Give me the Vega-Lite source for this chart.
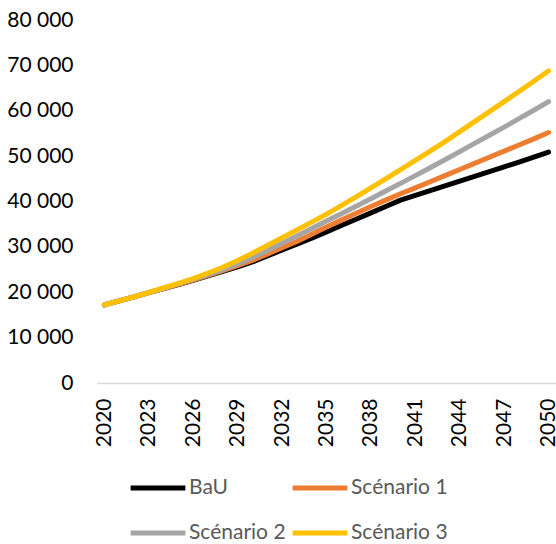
{
  "$schema": "https://vega.github.io/schema/vega-lite/v6.json",
  "width": 459,
  "height": 363,
  "autosize": {"type": "none"},
  "padding": {"left": 97, "top": 20, "right": 0, "bottom": 161},
  "background": "white",
  "config": {
    "view": {"stroke": null},
    "font": "Lato"
  },
  "data": {
    "values": [
      {"year": 2020, "series": "BaU", "value": 17200},
      {"year": 2021, "series": "BaU", "value": 18100},
      {"year": 2022, "series": "BaU", "value": 19000},
      {"year": 2023, "series": "BaU", "value": 19900},
      {"year": 2024, "series": "BaU", "value": 20800},
      {"year": 2025, "series": "BaU", "value": 21700},
      {"year": 2026, "series": "BaU", "value": 22650},
      {"year": 2027, "series": "BaU", "value": 23600},
      {"year": 2028, "series": "BaU", "value": 24600},
      {"year": 2029, "series": "BaU", "value": 25600},
      {"year": 2030, "series": "BaU", "value": 26700},
      {"year": 2031, "series": "BaU", "value": 28000},
      {"year": 2032, "series": "BaU", "value": 29300},
      {"year": 2033, "series": "BaU", "value": 30600},
      {"year": 2034, "series": "BaU", "value": 31900},
      {"year": 2035, "series": "BaU", "value": 33300},
      {"year": 2036, "series": "BaU", "value": 34700},
      {"year": 2037, "series": "BaU", "value": 36100},
      {"year": 2038, "series": "BaU", "value": 37500},
      {"year": 2039, "series": "BaU", "value": 38900},
      {"year": 2040, "series": "BaU", "value": 40300},
      {"year": 2041, "series": "BaU", "value": 41350},
      {"year": 2042, "series": "BaU", "value": 42400},
      {"year": 2043, "series": "BaU", "value": 43450},
      {"year": 2044, "series": "BaU", "value": 44500},
      {"year": 2045, "series": "BaU", "value": 45550},
      {"year": 2046, "series": "BaU", "value": 46600},
      {"year": 2047, "series": "BaU", "value": 47650},
      {"year": 2048, "series": "BaU", "value": 48700},
      {"year": 2049, "series": "BaU", "value": 49800},
      {"year": 2050, "series": "BaU", "value": 50900},
      {"year": 2020, "series": "Scénario 1", "value": 17200},
      {"year": 2021, "series": "Scénario 1", "value": 18100},
      {"year": 2022, "series": "Scénario 1", "value": 19000},
      {"year": 2023, "series": "Scénario 1", "value": 19900},
      {"year": 2024, "series": "Scénario 1", "value": 20800},
      {"year": 2025, "series": "Scénario 1", "value": 21750},
      {"year": 2026, "series": "Scénario 1", "value": 22700},
      {"year": 2027, "series": "Scénario 1", "value": 23700},
      {"year": 2028, "series": "Scénario 1", "value": 24750},
      {"year": 2029, "series": "Scénario 1", "value": 25850},
      {"year": 2030, "series": "Scénario 1", "value": 27000},
      {"year": 2031, "series": "Scénario 1", "value": 28400},
      {"year": 2032, "series": "Scénario 1", "value": 29800},
      {"year": 2033, "series": "Scénario 1", "value": 31200},
      {"year": 2034, "series": "Scénario 1", "value": 32800},
      {"year": 2035, "series": "Scénario 1", "value": 34400},
      {"year": 2036, "series": "Scénario 1", "value": 35900},
      {"year": 2037, "series": "Scénario 1", "value": 37400},
      {"year": 2038, "series": "Scénario 1", "value": 38900},
      {"year": 2039, "series": "Scénario 1", "value": 40300},
      {"year": 2040, "series": "Scénario 1", "value": 41700},
      {"year": 2041, "series": "Scénario 1", "value": 43000},
      {"year": 2042, "series": "Scénario 1", "value": 44350},
      {"year": 2043, "series": "Scénario 1", "value": 45700},
      {"year": 2044, "series": "Scénario 1", "value": 47050},
      {"year": 2045, "series": "Scénario 1", "value": 48400},
      {"year": 2046, "series": "Scénario 1", "value": 49750},
      {"year": 2047, "series": "Scénario 1", "value": 51100},
      {"year": 2048, "series": "Scénario 1", "value": 52450},
      {"year": 2049, "series": "Scénario 1", "value": 53800},
      {"year": 2050, "series": "Scénario 1", "value": 55200},
      {"year": 2020, "series": "Scénario 2", "value": 17200},
      {"year": 2021, "series": "Scénario 2", "value": 18100},
      {"year": 2022, "series": "Scénario 2", "value": 19000},
      {"year": 2023, "series": "Scénario 2", "value": 19900},
      {"year": 2024, "series": "Scénario 2", "value": 20850},
      {"year": 2025, "series": "Scénario 2", "value": 21850},
      {"year": 2026, "series": "Scénario 2", "value": 22850},
      {"year": 2027, "series": "Scénario 2", "value": 23900},
      {"year": 2028, "series": "Scénario 2", "value": 25000},
      {"year": 2029, "series": "Scénario 2", "value": 26250},
      {"year": 2030, "series": "Scénario 2", "value": 27600},
      {"year": 2031, "series": "Scénario 2", "value": 29200},
      {"year": 2032, "series": "Scénario 2", "value": 30800},
      {"year": 2033, "series": "Scénario 2", "value": 32400},
      {"year": 2034, "series": "Scénario 2", "value": 34050},
      {"year": 2035, "series": "Scénario 2", "value": 35700},
      {"year": 2036, "series": "Scénario 2", "value": 37300},
      {"year": 2037, "series": "Scénario 2", "value": 38950},
      {"year": 2038, "series": "Scénario 2", "value": 40600},
      {"year": 2039, "series": "Scénario 2", "value": 42300},
      {"year": 2040, "series": "Scénario 2", "value": 44000},
      {"year": 2041, "series": "Scénario 2", "value": 45700},
      {"year": 2042, "series": "Scénario 2", "value": 47450},
      {"year": 2043, "series": "Scénario 2", "value": 49200},
      {"year": 2044, "series": "Scénario 2", "value": 51000},
      {"year": 2045, "series": "Scénario 2", "value": 52800},
      {"year": 2046, "series": "Scénario 2", "value": 54600},
      {"year": 2047, "series": "Scénario 2", "value": 56400},
      {"year": 2048, "series": "Scénario 2", "value": 58250},
      {"year": 2049, "series": "Scénario 2", "value": 60100},
      {"year": 2050, "series": "Scénario 2", "value": 62000},
      {"year": 2020, "series": "Scénario 3", "value": 17200},
      {"year": 2021, "series": "Scénario 3", "value": 18100},
      {"year": 2022, "series": "Scénario 3", "value": 19000},
      {"year": 2023, "series": "Scénario 3", "value": 19950},
      {"year": 2024, "series": "Scénario 3", "value": 20950},
      {"year": 2025, "series": "Scénario 3", "value": 21950},
      {"year": 2026, "series": "Scénario 3", "value": 23000},
      {"year": 2027, "series": "Scénario 3", "value": 24200},
      {"year": 2028, "series": "Scénario 3", "value": 25500},
      {"year": 2029, "series": "Scénario 3", "value": 27000},
      {"year": 2030, "series": "Scénario 3", "value": 28600},
      {"year": 2031, "series": "Scénario 3", "value": 30300},
      {"year": 2032, "series": "Scénario 3", "value": 32000},
      {"year": 2033, "series": "Scénario 3", "value": 33700},
      {"year": 2034, "series": "Scénario 3", "value": 35450},
      {"year": 2035, "series": "Scénario 3", "value": 37200},
      {"year": 2036, "series": "Scénario 3", "value": 39100},
      {"year": 2037, "series": "Scénario 3", "value": 41000},
      {"year": 2038, "series": "Scénario 3", "value": 43000},
      {"year": 2039, "series": "Scénario 3", "value": 45000},
      {"year": 2040, "series": "Scénario 3", "value": 47000},
      {"year": 2041, "series": "Scénario 3", "value": 49050},
      {"year": 2042, "series": "Scénario 3", "value": 51100},
      {"year": 2043, "series": "Scénario 3", "value": 53200},
      {"year": 2044, "series": "Scénario 3", "value": 55400},
      {"year": 2045, "series": "Scénario 3", "value": 57600},
      {"year": 2046, "series": "Scénario 3", "value": 59800},
      {"year": 2047, "series": "Scénario 3", "value": 62000},
      {"year": 2048, "series": "Scénario 3", "value": 64250},
      {"year": 2049, "series": "Scénario 3", "value": 66500},
      {"year": 2050, "series": "Scénario 3", "value": 68800}
    ]
  },
  "mark": {"type": "line", "strokeWidth": 5, "strokeCap": "round", "strokeJoin": "round"},
  "encoding": {
    "x": {
      "field": "year",
      "type": "ordinal",
      "scale": {"type": "point", "padding": 0.5},
      "axis": {
        "title": null,
        "values": [2020, 2023, 2026, 2029, 2032, 2035, 2038, 2041, 2044, 2047, 2050],
        "labelAngle": -90,
        "labelAlign": "right",
        "labelBaseline": "middle",
        "labelFont": "Lato",
        "labelFontSize": 21,
        "labelColor": "#000000",
        "labelPadding": 15,
        "ticks": false,
        "domainColor": "#D9D9D9",
        "domainWidth": 1.5,
        "grid": false
      }
    },
    "y": {
      "field": "value",
      "type": "quantitative",
      "scale": {"domain": [0, 80000], "nice": false},
      "axis": {
        "title": null,
        "values": [0, 10000, 20000, 30000, 40000, 50000, 60000, 70000, 80000],
        "labelExpr": "replace(format(datum.value, ','), ',', ' ')",
        "labelFont": "Lato",
        "labelFontSize": 21,
        "labelColor": "#000000",
        "labelPadding": 24,
        "ticks": false,
        "domain": false,
        "grid": false
      }
    },
    "color": {
      "field": "series",
      "type": "nominal",
      "scale": {
        "domain": ["BaU", "Scénario 1", "Scénario 2", "Scénario 3"],
        "range": ["#000000", "#ED7D31", "#A5A5A5", "#FFC000"]
      },
      "legend": {
        "title": null,
        "orient": "none",
        "legendX": 31,
        "legendY": 438,
        "direction": "horizontal",
        "columns": 2,
        "symbolType": "stroke",
        "symbolSize": 3000,
        "symbolStrokeWidth": 5,
        "labelFont": "Lato",
        "labelFontSize": 21,
        "labelColor": "#595959",
        "labelOffset": 1,
        "columnPadding": -4,
        "rowPadding": 5
      }
    }
  }
}
